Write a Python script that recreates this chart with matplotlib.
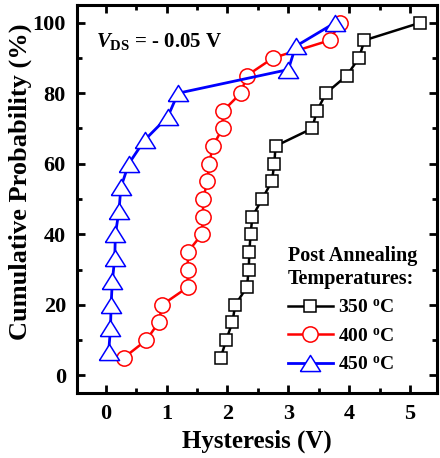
import matplotlib
matplotlib.use("Agg")
from matplotlib import pyplot as plt
from matplotlib.ticker import MultipleLocator

# data
prob_20 = [5, 10, 15, 20, 25, 30, 35, 40, 45, 50,
           55, 60, 65, 70, 75, 80, 85, 90, 95, 100]
hyst_350 = [1.89, 1.98, 2.08, 2.13, 2.32, 2.35, 2.36, 2.38, 2.41, 2.57,
            2.73, 2.77, 2.79, 3.39, 3.47, 3.62, 3.96, 4.16, 4.25, 5.17]
hyst_400 = [0.30, 0.67, 0.87, 0.93, 1.35, 1.35, 1.35, 1.58, 1.60, 1.60,
            1.67, 1.70, 1.76, 1.92, 1.93, 2.22, 2.32, 2.75, 3.68, 3.85]
prob_15 = [6.7, 13.3, 20.0, 26.7, 33.3, 40.0, 46.7, 53.3, 60.0, 66.7,
           73.3, 80.0, 86.7, 93.3, 100.0]
hyst_450 = [0.05, 0.08, 0.09, 0.11, 0.15, 0.16, 0.22, 0.25, 0.38, 0.64,
            1.02, 1.19, 3.00, 3.12, 3.77]

plt.rcParams['font.family'] = ['Liberation Serif', 'DejaVu Serif']
plt.rcParams['font.weight'] = 'bold'
plt.rcParams['mathtext.fontset'] = 'custom'
plt.rcParams['mathtext.rm'] = 'Liberation Serif:bold'
plt.rcParams['mathtext.it'] = 'Liberation Serif:italic:bold'
plt.rcParams['mathtext.bf'] = 'Liberation Serif:bold'

# wide, flat triangle like the original
tri = [(-1, -0.8), (1, -0.8), (0, 0.8), (-1, -0.8)]

fig = plt.figure(figsize=(4.4, 4.58), dpi=100)
ax = fig.add_axes([0.175, 0.142, 0.818, 0.847])

ax.plot(hyst_350, prob_20, color='black', lw=1.8, marker='s', ms=8.5,
        mfc='white', mec='black', mew=1.1, label='350 $^{\\mathrm{o}}$C')
ax.plot(hyst_400, prob_20, color='red', lw=1.8, marker='o', ms=11,
        mfc='white', mec='red', mew=1.1, label='400 $^{\\mathrm{o}}$C')
ax.plot(hyst_450, prob_15, color='blue', lw=2.0, marker=tri, ms=14.5,
        mfc='white', mec='blue', mew=1.1, label='450 $^{\\mathrm{o}}$C')

ax.set_xlim(-0.47, 5.44)
ax.set_ylim(-5, 105)
ax.xaxis.set_major_locator(MultipleLocator(1))
ax.xaxis.set_minor_locator(MultipleLocator(0.5))
ax.yaxis.set_major_locator(MultipleLocator(20))
ax.yaxis.set_minor_locator(MultipleLocator(10))
ax.tick_params(which='both', direction='in', top=True, right=True,
               width=2, labelsize=16, pad=8)
ax.tick_params(which='major', length=6)
ax.tick_params(which='minor', length=3.5)
for s in ax.spines.values():
    s.set_linewidth(2.2)

ax.set_xlabel('Hysteresis (V)', fontsize=18, fontweight='bold', labelpad=4)
ax.set_ylabel('Cumulative Probability (%)', fontsize=19, fontweight='bold')
ax.yaxis.set_label_coords(-0.125, 0.545)

ax.text(0.053, 0.892, '$V_{\\mathrm{DS}}$ = - 0.05 V', transform=ax.transAxes,
        fontsize=15, fontweight='bold', va='baseline')

leg = ax.legend(loc='lower left', bbox_to_anchor=(0.586, 0.05),
                frameon=False, fontsize=14,
                title='Post Annealing\nTemperatures:', handlelength=2.3,
                handletextpad=0.3, labelspacing=0.55, borderaxespad=0,
                borderpad=0)
leg.get_title().set_fontsize(14.5)
leg.get_title().set_fontweight('bold')
leg._legend_box.align = 'left'

plt.savefig('out.png', dpi=100)
plt.close()
